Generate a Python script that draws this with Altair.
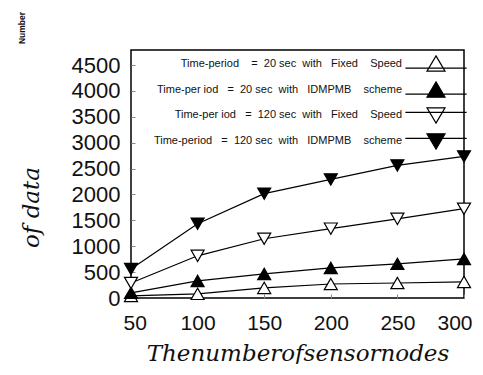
import altair as alt
import pandas as pd

N = "\u00a0"
nodes = [50, 100, 150, 200, 250, 300]
series_names = [
    f"Time-period{N*4}={N*2}20 sec{N*2}with{N*3}Fixed{N*4}Speed",
    f"Time-per{N}iod{N*3}={N*2}20 sec{N*2}with{N*3}IDMPMB{N*4}scheme",
    f"Time-per{N}iod{N*3}={N*2}120 sec{N*2}with{N*3}Fixed{N*4}Speed",
    f"Time-period{N*3}={N*2}120 sec{N*2}with{N*3}IDMPMB{N*4}scheme",
]
s20_fixed = [40, 80, 195, 270, 290, 310]
s20_idmpmb = [100, 330, 465, 580, 660, 755]
s120_fixed = [290, 815, 1145, 1340, 1530, 1725]
s120_idmpmb = [560, 1435, 2015, 2290, 2560, 2735]
y_ticks = [0, 500, 1000, 1500, 2000, 2500, 3000, 3500, 4000, 4500]

rows = []
for name, vals in zip(series_names, [s20_fixed, s20_idmpmb, s120_fixed, s120_idmpmb]):
    for n, v in zip(nodes, vals):
        rows.append({"nodes": n, "value": v, "series": name})
df = pd.DataFrame(rows)

fills = ["white", "black", "white", "black"]
strokes = ["black", "black", "black", "black"]
shapes = ["triangle-up", "triangle-up", "triangle-down", "triangle-down"]
up_path = "M0,-0.9L1,0.8L-1,0.8Z M-3.4,0.45H3.4"
down_path = "M0,0.9L1,-0.8L-1,-0.8Z M-3.4,-0.3H3.4"
legend_shapes = [up_path, up_path, down_path, down_path]

x_enc = alt.X("nodes:Q", scale=alt.Scale(domain=[50, 300], nice=False, zero=False),
              axis=alt.Axis(values=nodes, title="Thenumberofsensornodes", grid=False,
                            format="d",
                            labelFontSize=21, labelFont="Liberation Sans", labelColor="#111",
                            labelPadding=18, tickSize=alt.ExprRef(expr="-4"),
                            tickColor="#888", domain=False,
                            titleFont="DejaVu Serif", titleFontStyle="italic",
                            titleFontWeight="normal", titleFontSize=23, titleColor="#111",
                            titlePadding=9, labelFlush=True, labelFlushOffset=8))
y_enc = alt.Y("value:Q", scale=alt.Scale(domain=[0, 4790], nice=False),
              axis=alt.Axis(values=y_ticks, title="of    data", grid=False,
                            format="d",
                            labelFontSize=22, labelFont="Liberation Sans", labelColor="#111",
                            labelPadding=15, tickSize=alt.ExprRef(expr="-4"),
                            tickColor="#888", domain=False,
                            titleFont="DejaVu Serif", titleFontStyle="italic",
                            titleFontWeight="normal", titleFontSize=23, titleColor="#111",
                            titleX=-88, titleY=157))

base = alt.Chart(df)

lines = base.mark_line(color="black", strokeWidth=1.2).encode(
    x=x_enc, y=y_enc, detail="series:N")

points = base.mark_point(stroke="black", strokeWidth=1.2, opacity=1, size=170).encode(
    x=x_enc, y=y_enc,
    shape=alt.Shape("series:N", scale=alt.Scale(domain=series_names, range=shapes), legend=None),
    fill=alt.Fill("series:N", scale=alt.Scale(domain=series_names, range=fills), legend=None),
)

def make_legend():
    return alt.Legend(title=None, orient="none", legendX=295, legendY=4,
                      labelAlign="right", labelOffset=alt.ExprRef(expr="-44"),
                      labelFont="Liberation Sans", labelFontSize=11,
                      labelColor="#111", labelLimit=400,
                      symbolSize=324, symbolStrokeWidth=1.2,
                      symbolStrokeColor="black", symbolOpacity=1,
                      rowPadding=5, padding=0)

legend_layer = base.transform_filter("false").mark_point(
    strokeWidth=1.2, opacity=1, size=324).encode(
    x=x_enc, y=y_enc,
    stroke=alt.Stroke("series:N", scale=alt.Scale(domain=series_names, range=strokes),
                      legend=make_legend()),
    shape=alt.Shape("series:N", scale=alt.Scale(domain=series_names, range=legend_shapes),
                    legend=make_legend()),
    fill=alt.Fill("series:N", scale=alt.Scale(domain=series_names, range=fills),
                  legend=make_legend()),
)

corner = alt.Chart(pd.DataFrame({"t": ["Number"]})).mark_text(
    angle=270, fontSize=8.5, fontWeight="bold", font="Liberation Sans", color="#111"
).encode(text="t:N", x=alt.value(-109), y=alt.value(-22))

chart = alt.layer(lines, points, legend_layer, corner).resolve_scale(
    shape="independent", fill="independent", stroke="independent"
).properties(
    width=333, height=248,
    autosize=alt.AutoSizeParams(type="none"),
    padding={"left": 123, "top": 42, "right": 11, "bottom": 66},
).configure_view(stroke="black", strokeWidth=1.5)

chart.save("out.html", embed_options={"renderer": "svg", "actions": False})
